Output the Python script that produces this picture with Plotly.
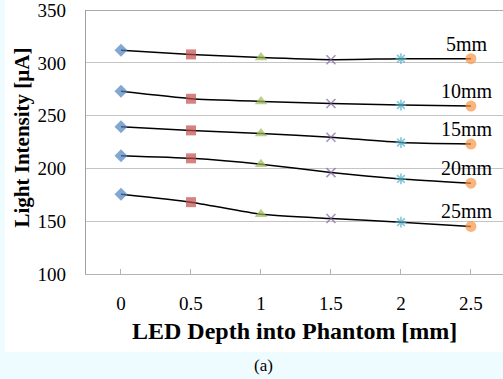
import plotly.graph_objects as go

depth = [0, 0.5, 1, 1.5, 2, 2.5]
series_labels = ["5mm", "10mm", "15mm", "20mm", "25mm"]
s5 = [312, 308, 305, 303, 304, 304]
s10 = [273, 266, 263.5, 261.5, 260, 259]
s15 = [239.5, 236, 233, 229.5, 224.5, 223]
s20 = [212, 209.5, 204, 196, 190, 186]
s25 = [175.5, 168, 156.5, 152.5, 149, 145]
all_series = [s5, s10, s15, s20, s25]

point_symbols = ["diamond", "square", "triangle-up", "x-thin-open", "asterisk-open", "circle"]
point_colors = ["#4f81bd", "#c0504d", "#9bbb59", "#8064a2", "#4bacc6", "#f79646"]
point_sizes = [10, 10, 11, 9, 9, 11]
point_lw = [0, 0, 0, 1.6, 1.6, 0]

y_ticks = [100, 150, 200, 250, 300, 350]
x_ticks = [0, 0.5, 1, 1.5, 2, 2.5]
x_tick_text = ["0", "0.5", "1", "1.5", "2", "2.5"]

SERIF = "Liberation Serif, Times New Roman, serif"

fig = go.Figure()
for vals in all_series:
    fig.add_trace(go.Scatter(
        x=depth, y=vals, mode="lines",
        line=dict(color="black", width=1.5, shape="spline", smoothing=0.5),
        showlegend=False, hoverinfo="skip"))
for vals in all_series:
    fig.add_trace(go.Scatter(
        x=depth, y=vals, mode="markers",
        marker=dict(symbol=point_symbols, color=point_colors, size=point_sizes,
                    line=dict(color=point_colors, width=point_lw)),
        showlegend=False))

for lab, vals in zip(series_labels, all_series):
    fig.add_annotation(x=depth[-1], y=vals[-1], text=lab, showarrow=False,
                       xanchor="center", yanchor="middle",
                       xshift=-4, yshift=15, font=dict(family=SERIF, size=20, color="black"))

# white chart panel (pixels: x 5..503, y 0..352)
fig.add_shape(type="rect", xref="paper", yref="paper", x0=-81 / 417, x1=1.05,
              y0=-(352 - 274) / 264, y1=1.1,
              fillcolor="white", line=dict(width=0), layer="below")
fig.add_shape(type="line", xref="paper", yref="y", x0=0, x1=1, y0=350, y1=350,
              line=dict(color="#8c8c8c", width=1.2))

fig.add_annotation(xref="paper", yref="paper", x=0, y=(274 - 137.5) / 264, xshift=-65,
                   text="<b>Light Intensity [μA]</b>",
                   xanchor="center", yanchor="middle",
                   textangle=-90, showarrow=False, font=dict(family=SERIF, size=21, color="black"))
fig.add_annotation(xref="paper", yref="paper", x=0.5, y=0, yshift=-57, text="<b>LED Depth into Phantom [mm]</b>",
                   xanchor="center", yanchor="middle",
                   showarrow=False, font=dict(family=SERIF, size=24, color="black"))
fig.add_annotation(xref="paper", yref="paper", x=(263 - 86) / 417, y=0, yshift=-91, text="(a)",
                   xanchor="center", yanchor="middle",
                   showarrow=False, font=dict(family=SERIF, size=17, color="black"))

fig.update_layout(
    width=503, height=379,
    margin=dict(l=86, r=0, t=10, b=105),
    paper_bgcolor="#eefcff", plot_bgcolor="white",
    xaxis=dict(range=[-0.25, 2.729], tickvals=x_ticks, ticktext=x_tick_text,
               showgrid=False, zeroline=False, showline=True, linecolor="#b3b3b3", linewidth=1.2,
               ticks="inside", ticklen=5, tickcolor="#b3b3b3",
               tickfont=dict(family=SERIF, size=19, color="black"), ticklabelstandoff=12,
               ticklabeloverflow="allow"),
    yaxis=dict(range=[99.9, 350.1], tickvals=y_ticks, showgrid=True, gridcolor="#c4c4c4", gridwidth=1.2,
               zeroline=False, showline=True, linecolor="#a0a0a0", linewidth=1.2,
               ticks="outside", ticklen=15, tickcolor="rgba(0,0,0,0)",
               tickfont=dict(family=SERIF, size=19, color="black"), ticklabeloverflow="allow"),
)

fig.write_html("out.html", config={"displayModeBar": False},
               post_script="document.body.style.margin='0';document.body.style.overflow='hidden';")
